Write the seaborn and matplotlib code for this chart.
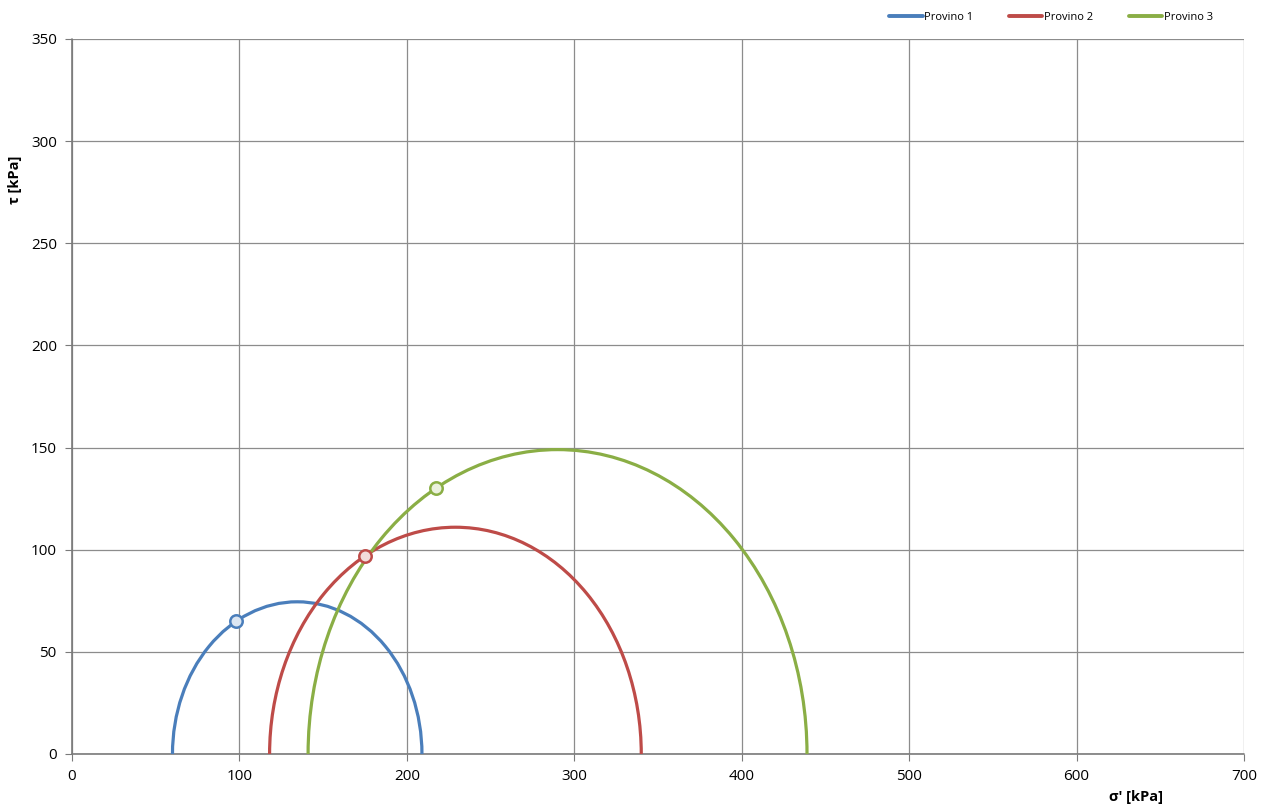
import matplotlib
matplotlib.use('Agg')
import matplotlib.pyplot as plt
from matplotlib.patches import Arc
from matplotlib.lines import Line2D
import seaborn as sns
import pandas as pd

# Mohr circles: principal effective stresses per specimen
provini = ['Provino 1', 'Provino 2', 'Provino 3']
sigma3 = [60, 118, 141]
sigma1 = [209, 340, 439]
colori = ['#4A7EBB', '#BE4B48', '#8AAE45']
colori_chiari = ['#DCE6F2', '#F2DCDB', '#EBF1DE']

# failure points
sigma_f = [98, 175, 217.5]
tau_f = [65, 97, 130]

sns.set_style('white')
plt.rcParams['font.family'] = ['Open Sans', 'DejaVu Sans']

fig = plt.figure(figsize=(12.66, 8.09), dpi=100)
ax = fig.add_axes([0.0569, 0.068, 0.9257, 0.8838])

for s3, s1, c in zip(sigma3, sigma1, colori):
    centro = (s1 + s3) / 2
    diam = s1 - s3
    ax.add_patch(Arc((centro, 0), diam, diam, theta1=0, theta2=180,
                     color=c, lw=2.3, zorder=3))

df = pd.DataFrame({'sigma': sigma_f, 'tau': tau_f, 'provino': provini})
for i, row in df.iterrows():
    sns.scatterplot(x=[row['sigma']], y=[row['tau']], ax=ax, s=80,
                    color=colori_chiari[i], edgecolor=colori[i],
                    linewidth=1.8, zorder=5)

ax.set_xlim(0, 700)
ax.set_ylim(0, 350)
ax.set_xticks(range(0, 701, 100))
ax.set_yticks(range(0, 351, 50))
ax.grid(True, color='#8c8c8c', lw=0.9)
ax.set_axisbelow(True)
for s in ax.spines.values():
    s.set_visible(False)
ax.axvline(0, color='#7a7a7a', lw=1.2, zorder=2, clip_on=False)
ax.axhline(0, color='#7a7a7a', lw=1.2, zorder=2, clip_on=False)
ax.tick_params(axis='both', length=5, color='#7a7a7a', labelsize=11,
               labelcolor='black', direction='out', bottom=True, left=True,
               pad=6)
ax.set_xlabel('')
ax.set_ylabel('')

fig.text(0.012, 0.778, 'τ [kPa]', rotation=90, fontsize=10.5,
         fontweight='bold', ha='center', va='center', color='black')
fig.text(0.897, 0.015, "σ' [kPa]", fontsize=10.5, fontweight='bold',
         ha='center', va='center', color='black')

handles = [Line2D([0], [0], color=c, lw=2.8) for c in colori]
leg = fig.legend(handles, provini, loc='upper right',
                 bbox_to_anchor=(0.966, 0.998), ncol=3, frameon=False,
                 fontsize=8, handlelength=3.0, handletextpad=0.15,
                 columnspacing=3.2)
for t in leg.get_texts():
    t.set_color('black')

fig.savefig('out.png', dpi=100)
